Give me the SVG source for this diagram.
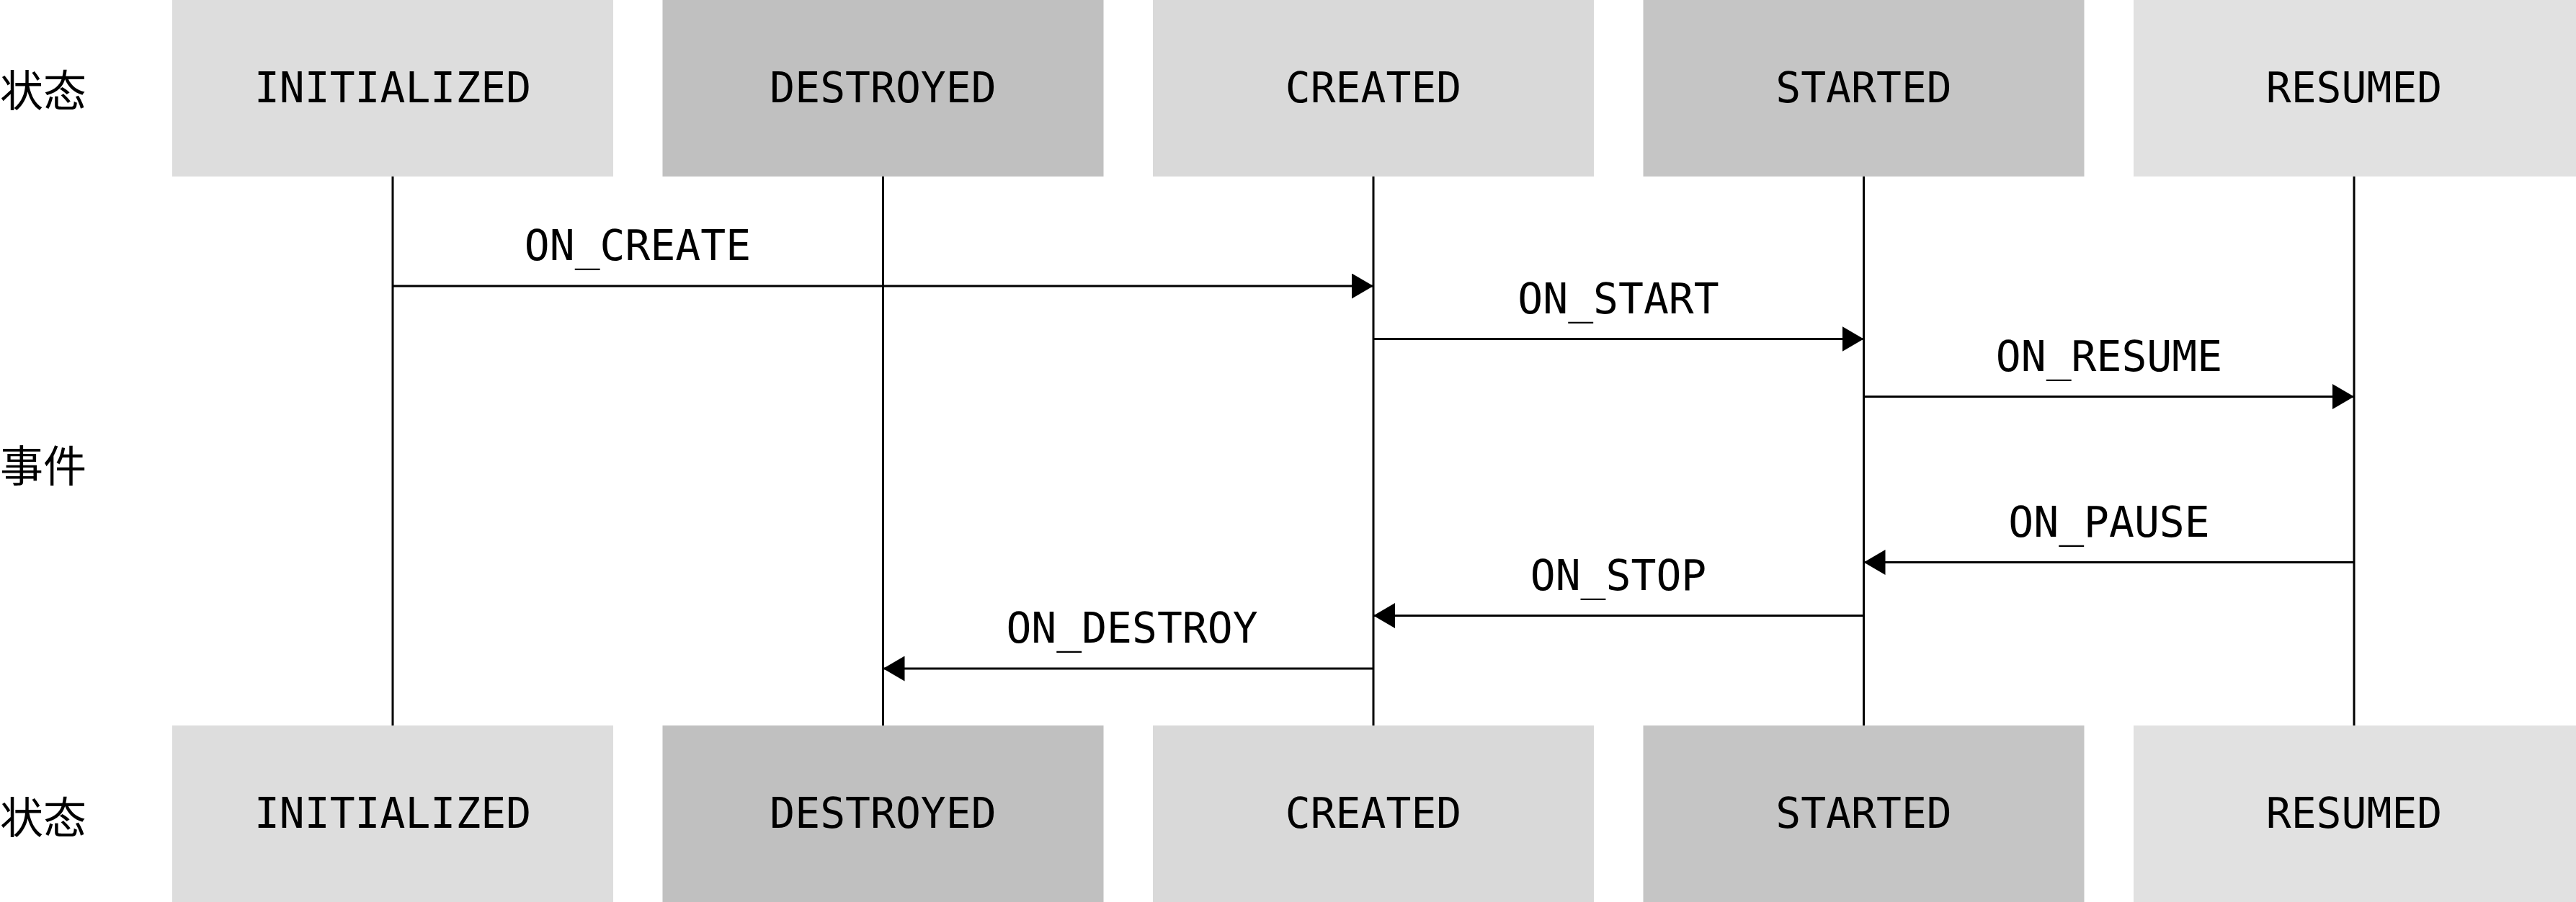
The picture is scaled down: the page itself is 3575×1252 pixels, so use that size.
<svg xmlns="http://www.w3.org/2000/svg" width="3575" height="1252" viewBox="0 0 3575 1252">
<defs>
<style>
.st{font-family:"DejaVu Sans Mono","Liberation Mono",monospace;font-size:58px;fill:#000;text-anchor:middle}
.ev{font-family:"DejaVu Sans Mono","Liberation Mono",monospace;font-size:58px;fill:#000;text-anchor:middle}
.rl{font-family:"Noto Sans CJK SC","Noto Sans CJK JP",sans-serif;font-size:60px;fill:#000}
.life{stroke:#000;stroke-width:3;fill:none}
.msg{stroke:#000;stroke-width:3;fill:none;marker-end:url(#ah)}
.c1{fill:#dddddd}.c2{fill:#c0c0c0}.c3{fill:#d9d9d9}.c4{fill:#c5c5c5}.c5{fill:#e1e1e1}
</style>
<marker id="ah" markerUnits="userSpaceOnUse" viewBox="0 0 30 35" refX="30" refY="17.5" markerWidth="30" markerHeight="35" orient="auto">
<path d="M0,0 L30,17.5 L0,35 Z" fill="#000"/>
</marker>
</defs>
<rect width="3575" height="1252" fill="#fff"/>

<g id="row-labels">
<text class="rl" x="0" y="148">状态</text>
<text class="rl" x="0" y="669">事件</text>
<text class="rl" x="0" y="1157">状态</text>
</g>

<g id="lifelines">
<line class="life" x1="545" y1="245" x2="545" y2="1007"/>
<line class="life" x1="1225.5" y1="245" x2="1225.5" y2="1007"/>
<line class="life" x1="1906" y1="245" x2="1906" y2="1007"/>
<line class="life" x1="2586.5" y1="245" x2="2586.5" y2="1007"/>
<line class="life" x1="3267" y1="245" x2="3267" y2="1007"/>
</g>

<g id="top-initialized"><rect class="c1" x="239" y="0" width="612" height="245"/><text class="st" x="545" y="142">INITIALIZED</text></g>
<g id="top-destroyed"><rect class="c2" x="919.5" y="0" width="612" height="245"/><text class="st" x="1225.5" y="142">DESTROYED</text></g>
<g id="top-created"><rect class="c3" x="1600" y="0" width="612" height="245"/><text class="st" x="1906" y="142">CREATED</text></g>
<g id="top-started"><rect class="c4" x="2280.5" y="0" width="612" height="245"/><text class="st" x="2586.5" y="142">STARTED</text></g>
<g id="top-resumed"><rect class="c5" x="2961" y="0" width="614" height="245"/><text class="st" x="3267" y="142">RESUMED</text></g>

<g id="bottom-initialized"><rect class="c1" x="239" y="1007" width="612" height="245"/><text class="st" x="545" y="1149">INITIALIZED</text></g>
<g id="bottom-destroyed"><rect class="c2" x="919.5" y="1007" width="612" height="245"/><text class="st" x="1225.5" y="1149">DESTROYED</text></g>
<g id="bottom-created"><rect class="c3" x="1600" y="1007" width="612" height="245"/><text class="st" x="1906" y="1149">CREATED</text></g>
<g id="bottom-started"><rect class="c4" x="2280.5" y="1007" width="612" height="245"/><text class="st" x="2586.5" y="1149">STARTED</text></g>
<g id="bottom-resumed"><rect class="c5" x="2961" y="1007" width="614" height="245"/><text class="st" x="3267" y="1149">RESUMED</text></g>

<g id="connectors">
<line class="msg" x1="545" y1="397" x2="1906" y2="397"/>
<text class="ev" x="885" y="361">ON_CREATE</text>
<line class="msg" x1="1906" y1="470.5" x2="2586.5" y2="470.5"/>
<text class="ev" x="2246" y="435">ON_START</text>
<line class="msg" x1="2586.5" y1="550.5" x2="3267" y2="550.5"/>
<text class="ev" x="2927" y="515">ON_RESUME</text>
<line class="msg" x1="3267" y1="780.5" x2="2586.5" y2="780.5"/>
<text class="ev" x="2927" y="745">ON_PAUSE</text>
<line class="msg" x1="2586.5" y1="854.5" x2="1906" y2="854.5"/>
<text class="ev" x="2246" y="819">ON_STOP</text>
<line class="msg" x1="1906" y1="928" x2="1225.5" y2="928"/>
<text class="ev" x="1571" y="892">ON_DESTROY</text>
</g>
</svg>
